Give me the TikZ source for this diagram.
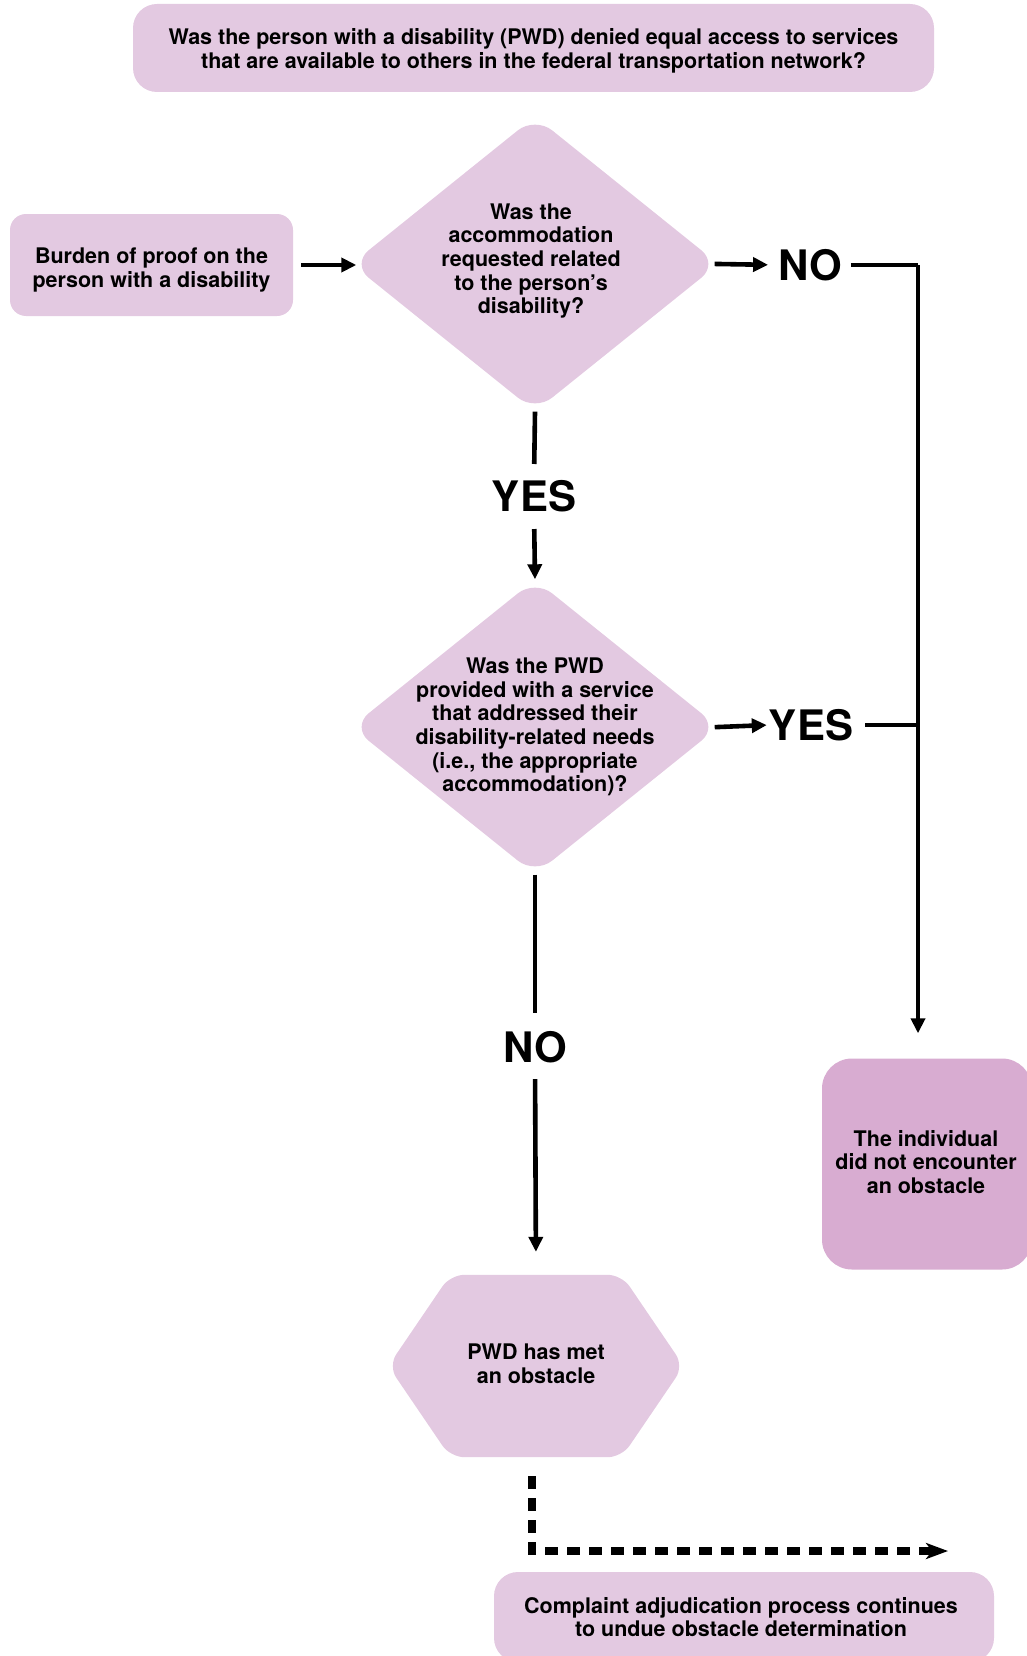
\documentclass[tikz,border=0pt]{standalone}
\usepackage{fontspec}
\setmainfont{TeX Gyre Heros}
\usetikzlibrary{shapes.geometric,arrows.meta,calc,backgrounds}
\definecolor{pinkA}{RGB}{227,201,225}
\definecolor{pinkB}{RGB}{216,172,209}
\begin{document}
\begin{tikzpicture}[x=1pt,y=-1pt,
  txt/.style={font=\fontsize{21.5}{23.6}\selectfont\bfseries, align=center, inner sep=0pt},
  box/.style={txt, fill=pinkA, rounded corners=20pt},
  dia/.style={diamond, fill=pinkA, rounded corners=22pt, inner sep=0pt},
  lab/.style={font=\fontsize{42}{46}\selectfont\bfseries, inner sep=0pt},
  conn/.style={line width=4.6pt},
  arr/.style={conn, -{Triangle[length=15pt,width=14pt]}},
  dasharr/.style={line width=7.5pt, dash pattern=on 13pt off 9pt, -{Stealth[length=22pt,width=16pt,inset=6pt]}}
]
\useasboundingbox (0,0) rectangle (1026,1656);

% nodes
\node[box, minimum width=801pt, minimum height=88pt, rounded corners=24pt] (top) at (533.5,48) {};
\node[txt] (topt) at (533.5,51)
  {Was the person with a disability (PWD) denied equal access to services\\that are available to others in the federal transportation network?};
\node[box, minimum width=283pt, minimum height=102pt, rounded corners=16pt] (burden) at (151.5,265) {};
\node[txt] (burdent) at (151.5,270) {Burden of proof on the\\person with a disability};
\node[dia, minimum width=367pt, minimum height=295pt] (d1) at (535,264) {};
\node[txt] (d1t) at (531,261) {Was the\\accommodation\\requested related\\to the person’s\\disability?};
\node[dia, minimum width=367pt, minimum height=295pt] (d2) at (535,727) {};
\node[txt] (d2t) at (535,727) {Was the PWD\\provided with a service\\that addressed their\\disability-related needs\\(i.e., the appropriate\\accommodation)?};

\node[lab] (no1) at (810,265) {NO};
\node[lab] (yes1) at (534,496) {YES};
\node[lab] (yes2) at (811,725) {YES};
\node[lab] (no2) at (535,1047) {NO};

\node[box, fill=pinkB, minimum width=210pt, minimum height=211pt, rounded corners=30pt] (right) at (927,1164) {};
\node[txt] (rightt) at (926,1162) {The individual\\did not encounter\\an obstacle};

\node[inner sep=0pt, minimum width=295pt, minimum height=182pt] (hex) at (536,1366) {};
\fill[pinkA, rounded corners=14pt] (hex.west) -- ($(hex.north west)+(62,0)$) -- ($(hex.north east)+(-62,0)$)
  -- (hex.east) -- ($(hex.south east)+(-62,0)$) -- ($(hex.south west)+(62,0)$) -- cycle;
\node[txt] (hext) at (536,1364) {PWD has met\\an obstacle};

\node[box, minimum width=500pt, minimum height=90pt, rounded corners=24pt] (bottom) at (744,1617) {};
\node[txt] (bottomt) at (741,1617) {Complaint adjudication process continues\\to undue obstacle determination};

\coordinate (rj) at (918,265);
\coordinate (dend) at (948,1551);

% connectors
\draw[arr, shorten <=8pt, shorten >=-5pt] (burden.east) -- (burden.east -| d1.west);
\draw[arr, shorten <=-4pt, shorten >=10pt] (d1.east) -- (no1.west);
\draw[arr, shorten <=-4pt, shorten >=2pt] (d2.east) -- (yes2.west);
\draw[conn, shorten <=9pt] (no1.east) -- (rj);
\draw[arr, shorten >=25pt] (rj) -- (rj |- right.north);
\draw[conn, shorten <=12pt] (yes2.east) -- (yes2.east -| rj);
\draw[conn, shorten >=16pt] (d1.south) -- (yes1.north);
\draw[arr, shorten <=17pt] (yes1.south) -- (d2.north);
\draw[conn, shorten >=18pt] (d2.south) -- (no2.north);
\draw[arr, shorten <=16pt, shorten >=23pt] (no2.south) -- (hex.north);
\draw[dasharr, shorten <=19pt] ([xshift=-4pt]hex.south) -- ([xshift=-4pt]hex.south |- dend) -- (dend);
\end{tikzpicture}
\end{document}
